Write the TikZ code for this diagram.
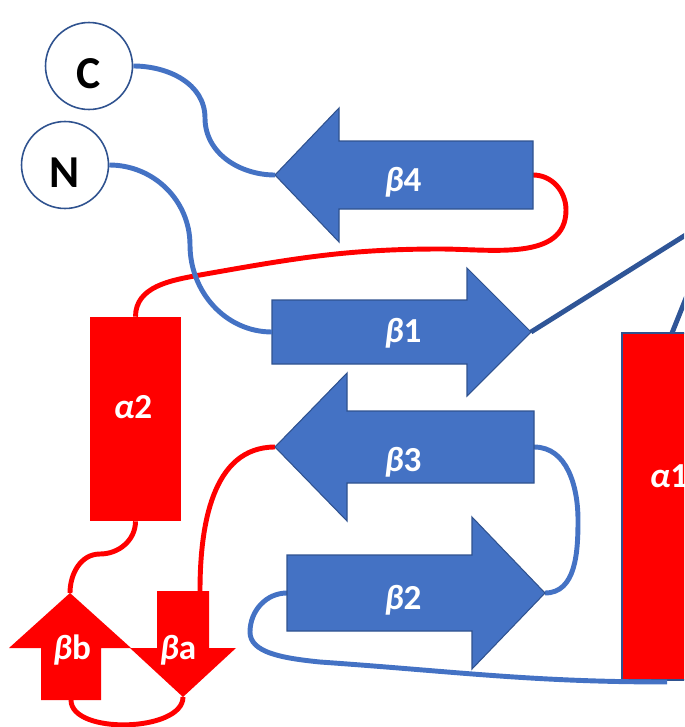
\documentclass[tikz,border=0pt]{standalone}
\usepackage{fontspec}
\setmainfont{Carlito}
\definecolor{sheetblue}{HTML}{4472C4}
\definecolor{sheetrim}{HTML}{2F528F}
\definecolor{linkdark}{HTML}{2F5597}
\definecolor{helixred}{HTML}{FF0000}
\tikzset{
  sheet/.style={fill=sheetblue, draw=sheetrim, line width=0.6pt, line join=miter},
  redsheet/.style={fill=helixred},
  helix/.style={rectangle, fill=helixred, inner sep=0pt},
  sslabel/.style={text=white, font=\bfseries\fontsize{20}{22}\selectfont, inner sep=0pt},
  term/.style={circle, draw=sheetrim, line width=0.9pt, fill=white, minimum size=1.74cm,
    text height=26pt, text depth=0pt, font=\bfseries\fontsize{26}{28}\selectfont},
  blueloop/.style={draw=sheetblue, line width=2.8pt},
  redloop/.style={draw=helixred, line width=2.8pt},
  darkloop/.style={draw=linkdark, line width=2.8pt},
}
\begin{document}
\begin{tikzpicture}[x=0.02cm, y=0.02cm]
  \useasboundingbox (0,0) rectangle (684,-727);
  \clip (0,0) rectangle (684,-727);

  % helices
  \node[helix, minimum width=1.84cm, minimum height=4.08cm] (a2) at (135.5,-419) {};
  \node[helix, draw=sheetrim, line width=1pt, minimum width=1.84cm, minimum height=6.94cm] (a1) at (668,-506.5) {};
  \coordinate (a1top) at (672,-333);
  \coordinate (a1foot) at (667,-682);

  % strand ends
  \coordinate (b4tip) at (275,-175);
  \coordinate (b4end) at (533,-175);
  \coordinate (b1tail) at (272,-332);
  \coordinate (b1tip) at (531,-332);
  \coordinate (b3tip) at (275,-447);
  \coordinate (b3end) at (534,-447);
  \coordinate (b2tail) at (287,-593);
  \coordinate (b2tip) at (545,-593);
  \coordinate (bbtip) at (70,-593);
  \coordinate (bbfoot) at (71,-700);
  \coordinate (batop) at (200,-591);
  \coordinate (batip) at (183,-697);
  \coordinate (exit1) at (700,-226);
  \coordinate (exit2) at (690,-288);

  % loops
  \draw[blueloop] (b3end) to[out=0,in=90] (578,-520) to[out=-90,in=0] (b2tip);
  \draw[blueloop] (b2tail) to[out=180,in=90] (250,-632) .. controls (250,-652) and (280,-658) .. (320,-662) to[out=-4,in=180] (a1foot);
  \draw[darkloop] (b1tip) -- (exit1);
  \draw[darkloop] (a1top) -- (exit2);
  \draw[redloop] (b4end) to[out=0,in=90] (566,-210) to[out=-90,in=0] (440,-249) to[out=180,in=10] (200,-275) to[out=190,in=90] (a2.north);
  \draw[redloop] (b3tip) to[out=180,in=90] (batop);
  \draw[redloop] (a2.south) to[out=-90,in=0] (100,-554) to[out=180,in=90] (bbtip);
  \draw[redloop] (bbfoot) to[out=-90,in=-90,looseness=0.8] (batip);

  % strands
  \filldraw[sheet] (b4tip) -- (339,-108) -- (339,-141) -- (533,-141) -- (533,-209) -- (339,-209) -- (339,-242) -- cycle;
  \filldraw[sheet] (b1tail) -- (272,-300) -- (467,-300) -- (467,-268) -- (b1tip) -- (467,-396) -- (467,-364) -- (272,-364) -- cycle;
  \filldraw[sheet] (b3tip) -- (347,-373) -- (347,-411) -- (534,-411) -- (534,-483) -- (347,-483) -- (347,-521) -- cycle;
  \filldraw[sheet] (b2tail) -- (287,-555) -- (472,-555) -- (472,-517) -- (b2tip) -- (472,-669) -- (472,-631) -- (287,-631) -- cycle;
  \fill[redsheet] (bbtip) -- (131,-648) -- (101,-648) -- (101,-700) -- (41,-700) -- (41,-648) -- (9,-648) -- cycle;
  \fill[redsheet] (157,-591) -- (209,-591) -- (209,-648) -- (236,-648) -- (batip) -- (130,-648) -- (157,-648) -- cycle;

  % termini
  \node[term] (C) at (89,-66) {C};
  \node[term] (N) at (65,-165) {N};
  \draw[blueloop] (C.east) to[out=0,in=90] (205,-118) to[out=-90,in=180] (b4tip);
  \draw[blueloop] (N.east) to[out=0,in=90] (190,-245) to[out=-90,in=180] (b1tail);

  % labels
  \node[sslabel] (b4lab) at (403,-182) {{\itshape β}4};
  \node[sslabel] (b1lab) at (403,-333) {{\itshape β}1};
  \node[sslabel] (b3lab) at (403,-462) {{\itshape β}3};
  \node[sslabel] (b2lab) at (403,-600) {{\itshape β}2};
  \node[sslabel] (a2lab) at (133,-407) {{\itshape α}2};
  \node[sslabel] (a1lab) at (669,-476) {{\itshape α}1};
  \node[sslabel] (bblab) at (72,-650) {{\itshape β}b};
  \node[sslabel] (balab) at (178,-650) {{\itshape β}a};
\end{tikzpicture}
\end{document}
